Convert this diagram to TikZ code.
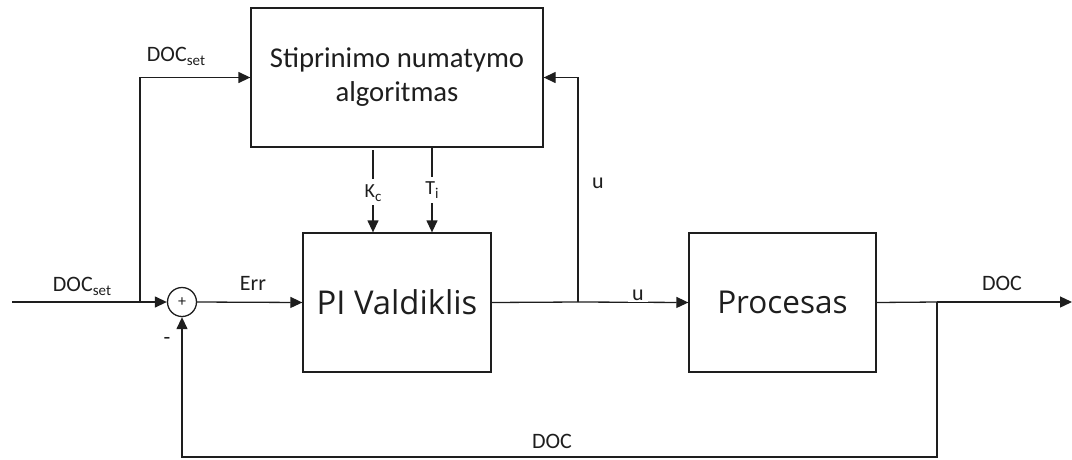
\documentclass[tikz,border=0pt]{standalone}
\usepackage{fontspec}
\setmainfont{Carlito}
\newfontfamily\blockfont{Open Sans}
\usetikzlibrary{arrows.meta}
\definecolor{ink}{RGB}{30,30,30}
\newcommand{\lblsub}[2]{#1\raisebox{-0.18em}{\fontsize{15}{15}\selectfont #2}}
\tikzset{
  ln/.style={draw=ink, line width=1.3pt},
  arr/.style={ln, -{Triangle[length=12pt,width=11pt]}},
  blockbox/.style={draw=ink, line width=1.3pt, inner sep=0pt, text=ink},
  lbl/.style={text=ink, inner sep=0pt, font=\fontsize{22}{26}\selectfont},
  smalllbl/.style={text=ink, inner sep=0pt, font=\fontsize{20}{24}\selectfont},
}
\begin{document}
\begin{tikzpicture}[x=1pt,y=-1pt]
\useasboundingbox (0,0) rectangle (1072,459);
% blocks
\node[blockbox, minimum width=292pt, minimum height=139pt, align=center,
      font=\fontsize{28.7}{34}\selectfont] (algo) at (397,77.5)
      {Stiprinimo numatymo\\algoritmas};
\node[blockbox, minimum width=188pt, minimum height=139pt,
      font=\blockfont\fontsize{32.8}{38}\selectfont] (pi) at (397,302.5) {PI Valdiklis};
\node[blockbox, minimum width=187pt, minimum height=139pt,
      font=\blockfont\fontsize{31.5}{38}\selectfont] (proc) at (782.5,302.5) {Procesas};
\node[draw=ink, line width=1.3pt, circle, minimum size=29pt, inner sep=0pt,
      font=\fontsize{16}{16}\selectfont, text=ink] (sum) at (182,302) {+};
% coordinates
\coordinate (in) at (12,302);
\coordinate (j1) at (140,302);
\coordinate (j2) at (578,302);
\coordinate (j3) at (937,302);
\coordinate (out) at (1072,302);
\coordinate (fb1) at (937,457);
\coordinate (fb2) at (182,457);
\coordinate (kc1) at (373,150);
\coordinate (kc2) at (373,179);
\coordinate (kc3) at (373,205);
\coordinate (ti1) at (432,147);
\coordinate (ti2) at (432,177);
\coordinate (ti3) at (432,203);
% connectors
\draw[ln] (in) -- (j1);
\draw[arr] (j1) -- (sum.west);
\draw[arr] (j1) |- (algo.west);
\draw[arr] (sum.east) -- (pi.west);
\draw[ln] (pi.east) -- (j2);
\draw[arr] (j2) -- (proc.west);
\draw[arr] (j2) |- (algo.east);
\draw[ln] (proc.east) -- (j3);
\draw[arr] (j3) -- (out);
\draw[arr] (j3) -- (fb1) -- (fb2) -- (sum.south);
\draw[ln] (kc1) -- (kc2);
\draw[arr] (kc3) -- (kc3 |- pi.north);
\draw[ln] (ti1) -- (ti2);
\draw[arr] (ti3) -- (ti3 |- pi.north);
% labels
\node[lbl] (l1) at (82,286) {\lblsub{DOC}{set}};
\node[lbl] (l2) at (176,56) {\lblsub{DOC}{set}};
\node[lbl] (l3) at (253,283) {Err};
\node[lbl] (l4) at (167,341) {-};
\node[smalllbl] (l5) at (373,193) {\lblsub{K}{c}};
\node[smalllbl] (l6) at (432,190) {\lblsub{T}{i}};
\node[lbl] (l7) at (598,183) {u};
\node[lbl, fill=white, inner xsep=4pt, inner ysep=1pt, anchor=south] (l8) at (638,302) {u};
\node[lbl] (l9) at (1002,283) {DOC};
\node[lbl] (l10) at (552,441) {DOC};
\end{tikzpicture}
\end{document}
